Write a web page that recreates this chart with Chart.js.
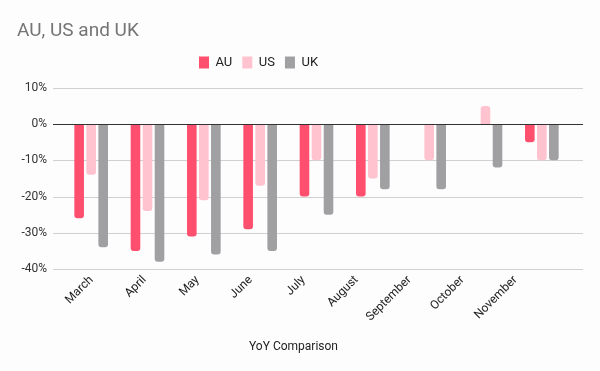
<!DOCTYPE html>
<html>
<head>
<meta charset="utf-8">
<script src="https://cdn.jsdelivr.net/npm/chart.js@4/dist/chart.umd.min.js"></script>
<style>
  html, body { margin: 0; padding: 0; background: #fefdfe; }
  #wrap { width: 600px; height: 371px; position: relative; }
</style>
</head>
<body>
<div id="wrap"><canvas id="c" width="600" height="371"></canvas></div>
<script>
const categories = ["March", "April", "May", "June", "July", "August", "September", "October", "November"];
const auValues = [-26, -35, -31, -29, -20, -20, null, null, -5];
const usValues = [-14, -24, -21, -17, -10, -15, -10, 5, -10];
const ukValues = [-34, -38, -36, -35, -25, -18, -18, -12, -10];
const yTicks = [10, 0, -10, -20, -30, -40];

const FONT = "Roboto, 'Liberation Sans', Arial, sans-serif";

const gridPlugin = {
  id: 'customGrid',
  afterLayout(chart) {
    const l = chart.legend;
    if (l) {
      const w = l.right - l.left;
      l.left = 189;
      l.right = 189 + w;
      const h = l.bottom - l.top;
      l.top = 46;
      l.bottom = 46 + h;
    }
  },
  beforeDatasetsDraw(chart) {
    const y = chart.scales.y;
    const ctx = chart.ctx;
    ctx.save();
    ctx.strokeStyle = '#d0d0d0';
    ctx.lineWidth = 1;
    yTicks.forEach(v => {
      if (v === 0) return;
      const py = Math.round(y.getPixelForValue(v)) + 0.5;
      ctx.beginPath();
      ctx.moveTo(53, py);
      ctx.lineTo(583, py);
      ctx.stroke();
    });
    ctx.restore();
  },
  afterDatasetsDraw(chart) {
    const y = chart.scales.y;
    const ctx = chart.ctx;
    ctx.save();
    ctx.strokeStyle = '#333333';
    ctx.lineWidth = 1;
    const py = Math.round(y.getPixelForValue(0)) + 0.5;
    ctx.beginPath();
    ctx.moveTo(53, py);
    ctx.lineTo(583, py);
    ctx.stroke();
    ctx.restore();
  }
};

const bgPlugin = {
  id: 'bg',
  beforeDraw(chart) {
    const ctx = chart.ctx;
    ctx.save();
    ctx.fillStyle = '#fefdfe';
    ctx.fillRect(0, 0, chart.width, chart.height);
    ctx.restore();
  }
};

new Chart(document.getElementById('c'), {
  type: 'bar',
  data: {
    labels: categories,
    datasets: [
      { label: 'AU', data: auValues, backgroundColor: '#ff4f6e', borderRadius: 3 },
      { label: 'US', data: usValues, backgroundColor: '#ffc2cf', borderRadius: 3 },
      { label: 'UK', data: ukValues, backgroundColor: '#a09fa2', borderRadius: 3 }
    ]
  },
  options: {
    responsive: false,
    animation: false,
    devicePixelRatio: 1,
    datasets: { bar: { categoryPercentage: 0.64, barPercentage: 0.8 } },
    layout: { padding: { left: 17, right: 30, top: 0, bottom: 0 } },
    plugins: {
      title: {
        display: true,
        text: 'AU, US and UK',
        align: 'start',
        color: '#757575',
        font: { family: FONT, size: 19, weight: 'normal' },
        padding: { top: 20, bottom: 12 }
      },
      subtitle: {
        display: true,
        position: 'bottom',
        text: 'YoY Comparison',
        color: '#222222',
        font: { family: FONT, size: 12, weight: 'normal' },
        padding: { top: 0, bottom: 17 }
      },
      legend: {
        display: true,
        position: 'top',
        align: 'start',
        labels: {
          boxWidth: 10,
          boxHeight: 12,
          color: '#222222',
          font: { family: FONT, size: 13 },
          padding: 10
        }
      },
      tooltip: { enabled: false }
    },
    scales: {
      x: {
        grid: { display: false, drawTicks: false },
        border: { display: false },
        ticks: { display: false },
        afterFit(s) { s.height = 0; }
      },
      x2: {
        type: 'linear',
        position: 'bottom',
        offset: false,
        bounds: 'data',
        min: -0.538,
        max: 9.028,
        grid: { display: false, drawTicks: false, offset: false },
        border: { display: false },
        afterBuildTicks(s) { s.ticks = categories.map((_, i) => ({ value: i })); },
        ticks: {
          color: '#222222',
          font: { family: FONT, size: 12 },
          minRotation: 45,
          maxRotation: 45,
          padding: 4,
          autoSkip: false,
          callback: v => categories[v]
        },
        afterFit(s) { s.height = 70.6; }
      },
      y: {
        min: -40,
        max: 10,
        grid: { display: false, drawTicks: false },
        border: { display: false },
        ticks: {
          stepSize: 10,
          color: '#333333',
          font: { family: FONT, size: 12 },
          padding: 16,
          callback: v => v + '%'
        },
        afterFit(s) { s.width = 46; }
      }
    }
  },
  plugins: [bgPlugin, gridPlugin]
});
</script>
</body>
</html>
